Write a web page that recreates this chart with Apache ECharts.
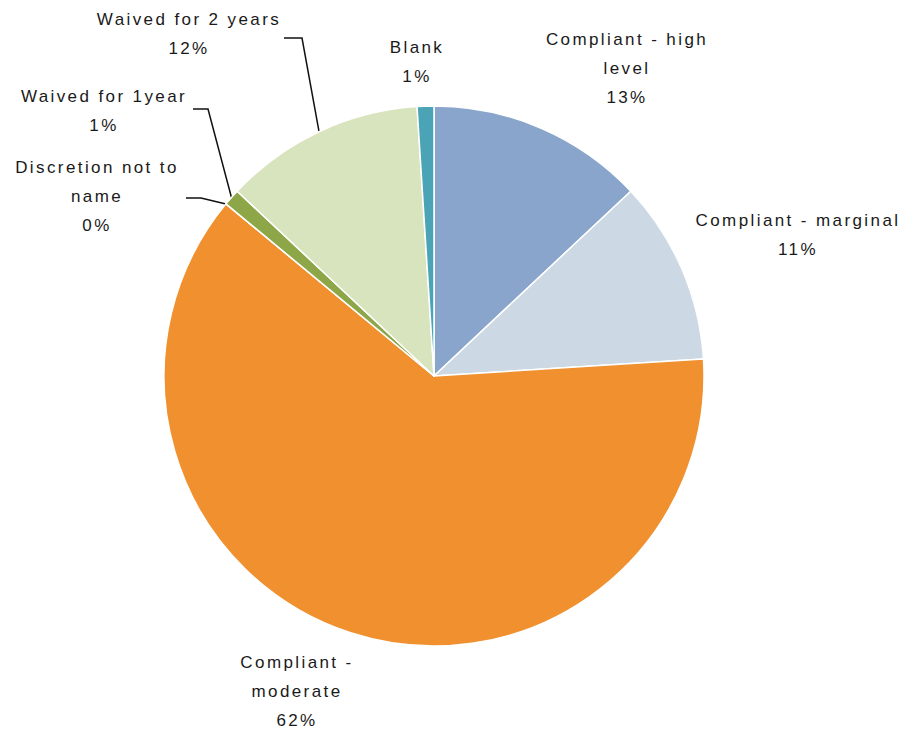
<!DOCTYPE html>
<html>
<head>
<meta charset="utf-8">
<script src="https://cdn.jsdelivr.net/npm/echarts@6/dist/echarts.min.js"></script>
<style>
  html, body { margin: 0; padding: 0; background: #ffffff; }
  #main { width: 905px; height: 735px; }
  #main text { letter-spacing: 2.4px; }
</style>
</head>
<body>
<div id="main"></div>
<script>
// Compliance outcome shares (percent of total)
const categories = [
  'Compliant - high\nlevel',
  'Compliant - marginal',
  'Compliant -\nmoderate',
  'Discretion not to\nname',
  'Waived for 1year',
  'Waived for 2 years',
  'Blank'
];
const shares = [13, 11, 62, 0, 1, 12, 1];
const colors = ['#89a5cb', '#cdd8e5', '#f0902f', '#c0504d', '#8da648', '#d8e4bd', '#4aa4b5'];

// Label placement around the pie: centre of each text block,
// plus the elbow and end of the leader line for the small slices on the left.
const labelSpots = [
  { x: 627, y: 68 },
  { x: 798, y: 235 },
  { x: 297, y: 691 },
  { x: 97, y: 196, elbow: [201, 198], end: [186, 198] },
  { x: 104, y: 111, elbow: [208, 109], end: [193, 109] },
  { x: 189, y: 34, elbow: [302, 38], end: [284, 38] },
  { x: 417, y: 62 }
];
const withLeader = [3, 4, 5];

const chart = echarts.init(document.getElementById('main'), null, { renderer: 'svg' });

const seriesData = categories.map((name, i) => ({
  name: name,
  value: shares[i],
  itemStyle: { color: colors[i] },
  labelLine: { show: withLeader.indexOf(i) >= 0 }
}));

chart.setOption({
  backgroundColor: '#ffffff',
  animation: false,
  series: [{
    type: 'pie',
    center: [434, 376],
    radius: 270,
    startAngle: 90,
    clockwise: true,
    avoidLabelOverlap: false,
    minShowLabelAngle: 0,
    stillShowZeroSum: true,
    itemStyle: { borderColor: '#ffffff', borderWidth: 1.5 },
    label: {
      show: true,
      position: 'outside',
      formatter: p => p.name + '\n' + Math.round(p.value) + '%',
      fontFamily: 'Liberation Sans, Arial, sans-serif',
      fontSize: 17,
      lineHeight: 29,
      color: '#1a1a1a',
      align: 'center'
    },
    labelLine: {
      show: false,
      length: 10,
      length2: 10,
      lineStyle: { color: '#111111', width: 1.5 }
    },
    labelLayout: function (params) {
      const spot = labelSpots[params.dataIndex];
      const out = {
        x: spot.x,
        y: spot.y,
        align: 'center',
        verticalAlign: 'middle'
      };
      if (spot.elbow && params.labelLinePoints) {
        const anchor = params.labelLinePoints[0];
        out.labelLinePoints = [
          [anchor[0], anchor[1]],
          spot.elbow,
          spot.end
        ];
      }
      return out;
    },
    emphasis: { disabled: true },
    data: seriesData
  }]
});
</script>
</body>
</html>
